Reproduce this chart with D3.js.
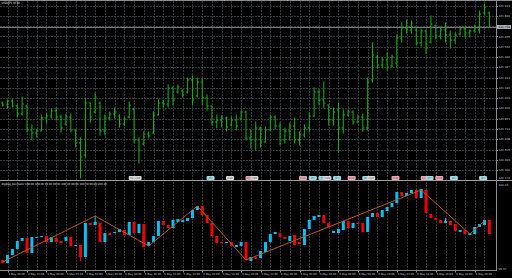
<!DOCTYPE html>
<html>
<head>
<meta charset="utf-8">
<script src="https://cdnjs.cloudflare.com/ajax/libs/d3/7.8.5/d3.min.js"></script>
<style>
  html, body { margin: 0; padding: 0; background: #000; overflow: hidden; }
  svg { display: block; }
  text { font-family: "DejaVu Sans", sans-serif; }
</style>
</head>
<body>
<svg id="svg"></svg>
<script>
// ---- data ----
const chartTitle = "USDJPY,M30";
const oscTitle = "ZigZag_Oscillator 100.06 100.06 99.92 99.92 100.36 99.66 100.20 99.80 100.10";

const barOpen = [
  120.97,120.95,120.99,120.94,120.86,120.94,120.70,120.67,120.69,120.82,
  120.84,120.89,120.83,120.76,120.83,120.70,120.57,120.45,120.97,120.88,
  120.97,120.69,120.82,120.86,120.84,120.76,120.83,120.91,120.60,120.56,
  120.66,120.67,120.85,120.97,120.96,121.12,121.08,121.09,121.08,121.20,
  121.04,121.18,121.02,120.94,120.78,120.80,120.82,120.75,120.80,120.81,
  120.88,120.62,120.60,120.72,120.58,120.70,120.83,120.74,120.60,120.69,
  120.74,120.60,120.65,120.72,120.84,121.08,121.00,120.95,120.80,120.90,
  120.72,120.85,120.88,120.78,120.83,120.72,121.20,121.43,121.35,121.40,
  121.34,121.37,121.62,121.72,121.70,121.70,121.57,121.69,121.58,121.74,
  121.64,121.70,121.65,121.60,121.66,121.71,121.67,121.69,121.70,121.87,
  121.87];
const barHigh = [
  120.98,121.00,121.01,120.95,121.03,120.95,120.75,120.70,120.85,120.86,
  120.91,120.92,120.85,120.86,120.86,120.70,120.62,121.02,120.97,121.07,
  120.98,120.85,120.88,120.92,120.85,120.83,120.98,120.92,120.62,120.68,
  120.68,120.88,121.00,121.00,121.15,121.13,121.15,121.10,121.22,121.24,
  121.22,121.21,121.05,120.94,120.85,120.84,120.83,120.83,120.85,120.89,
  120.89,120.70,120.78,120.73,120.73,120.85,120.84,120.77,120.72,120.77,
  120.82,120.68,120.75,120.87,121.12,121.10,121.18,120.95,120.92,120.97,
  120.90,120.90,120.89,120.85,120.86,121.22,121.57,121.45,121.42,121.47,
  121.45,121.65,121.77,121.80,121.79,121.72,121.71,121.70,121.84,121.75,
  121.73,121.77,121.69,121.67,121.73,121.73,121.70,121.75,121.89,121.96,
  121.88];
const barLow = [
  120.94,120.92,120.93,120.83,120.85,120.68,120.60,120.63,120.69,120.77,
  120.82,120.80,120.68,120.75,120.68,120.53,120.22,120.43,120.78,120.87,
  120.65,120.65,120.80,120.82,120.73,120.75,120.82,120.57,120.37,120.55,
  120.62,120.67,120.85,120.93,120.93,120.95,121.07,121.03,121.07,120.95,
  121.03,120.95,120.90,120.75,120.72,120.73,120.69,120.74,120.70,120.80,
  120.60,120.52,120.50,120.53,120.58,120.70,120.71,120.55,120.57,120.60,
  120.57,120.55,120.63,120.68,120.84,120.95,120.92,120.75,120.75,120.48,
  120.67,120.84,120.76,120.77,120.69,120.70,121.18,121.32,121.32,121.30,
  121.33,121.33,121.58,121.67,121.67,121.55,121.54,121.47,121.57,121.61,
  121.61,121.58,121.52,121.57,121.65,121.63,121.63,121.68,121.67,121.85,
  121.73];
const barClose = [
  120.95,120.99,120.94,120.86,120.96,120.70,120.67,120.69,120.82,120.84,
  120.89,120.83,120.72,120.83,120.70,120.57,120.43,120.97,120.83,121.03,
  120.69,120.82,120.86,120.88,120.76,120.81,120.95,120.60,120.50,120.66,
  120.64,120.85,120.97,120.96,121.12,121.00,121.13,121.05,121.20,121.00,
  121.18,121.02,120.94,120.78,120.80,120.82,120.73,120.80,120.74,120.88,
  120.62,120.60,120.72,120.58,120.70,120.83,120.74,120.60,120.69,120.74,
  120.60,120.65,120.72,120.84,121.08,121.00,120.97,120.80,120.88,120.72,
  120.85,120.88,120.78,120.83,120.72,121.18,121.45,121.35,121.40,121.33,
  121.43,121.62,121.72,121.70,121.77,121.57,121.69,121.52,121.76,121.64,
  121.70,121.65,121.60,121.65,121.71,121.67,121.69,121.73,121.86,121.93,
  121.73];
const bidPrice = 121.73;
const bidLabel = "121.730";

const priceTicks = [121.943,121.840,121.738,121.635,121.532,121.430,121.327,121.224,
  121.121,121.019,120.916,120.813,120.711,120.608,120.505,120.403,120.300];
const priceBottomLabel = 120.174;

// ZigZag oscillator (lower window)
const oscOpen = [
  99.66,99.63,99.71,99.77,99.85,99.88,99.73,99.88,99.89,99.90,
  99.84,99.88,99.85,99.85,99.89,99.80,99.81,99.69,100.03,100.01,
  100.03,99.84,99.93,99.93,99.94,99.96,99.91,100.04,99.93,100.02,
  99.80,99.84,99.90,100.05,100.01,99.98,100.04,100.04,100.05,100.08,
  100.16,100.20,100.11,100.03,99.90,99.84,99.83,99.84,99.79,99.80,
  99.84,99.65,99.69,99.68,99.74,99.84,99.92,99.93,99.89,99.85,
  99.91,99.84,99.81,99.97,100.06,100.09,100.11,100.03,99.93,99.93,
  99.96,100.05,99.98,100.03,100.03,99.94,100.09,100.13,100.09,100.15,
  100.19,100.23,100.34,100.30,100.33,100.36,100.28,100.36,100.12,100.08,
  100.06,100.03,100.05,100.02,99.94,99.96,99.91,99.92,99.99,100.01,
  100.06];
const oscClose = [
  99.63,99.71,99.77,99.85,99.88,99.73,99.89,99.89,99.90,99.84,
  99.89,99.84,99.83,99.89,99.80,99.81,99.69,100.03,100.01,100.04,
  99.84,99.93,99.91,99.94,99.97,99.91,100.04,99.93,100.02,99.79,
  99.84,99.90,100.05,100.01,99.98,100.06,100.07,100.06,100.08,100.16,
  100.20,100.11,100.03,99.90,99.83,99.83,99.84,99.80,99.81,99.84,
  99.66,99.69,99.67,99.75,99.84,99.92,99.94,99.89,99.87,99.90,
  99.81,99.82,99.97,100.06,100.10,100.11,100.03,99.99,99.95,99.97,
  100.05,99.98,100.03,100.02,99.94,100.09,100.13,100.09,100.16,100.19,
  100.23,100.34,100.30,100.33,100.36,100.28,100.37,100.13,100.08,100.06,
  100.03,100.05,100.01,99.95,99.96,99.92,99.93,99.99,100.02,100.06,
  99.92];
// wicks that stick out of the bodies
const oscWickBars = [16, 19, 91];
const oscWickValues = [99.65, 100.10, 100.08];

const zigzagBars = [0, 19, 30, 40, 50, 86, 96, 99];
const zigzagValues = [99.64, 100.10, 99.80, 100.20, 99.66, 100.36, 99.92, 100.05];

const oscTicks = [100.43, 99.57];

// event flags on the main window
const flagBars = [26, 27, 42, 46, 50, 51, 61, 63, 65, 66, 68, 71, 74, 75, 80, 86, 87, 89, 92, 98];
const flagKinds = ["w","w","c","w","p","w","p","c","c","w","c","p","c","w","p","p","c","p","c","c"];
const flagText = ["USD","USD","JPY","USD","EUR","USD","EUR","JPY","JPY","USD","JPY","EUR","JPY","USD","EUR","EUR","JPY","EUR","JPY","JPY"];

const timeLabels = ["4 May 20:00","4 May 22:00","5 May 00:00","5 May 02:00","5 May 04:00",
  "5 May 06:00","5 May 08:00","5 May 10:00","5 May 12:00","5 May 14:00","5 May 16:00",
  "5 May 18:00","5 May 20:00","5 May 22:00","6 May 00:00","6 May 02:00","6 May 04:00",
  "6 May 06:00","6 May 08:00","6 May 10:00","6 May 12:00","6 May 14:00","6 May 16:00",
  "6 May 18:00","6 May 20:00"];

// ---- layout ----
const width = 512, height = 278;
const plotRight = 496;
const mainTop = 1, mainBottom = 180;
const oscTop = 182, oscBottom = 270;

const gridColor = "#34383c";
const axisColor = "#8c8c8c";
const textColor = "#c8c8c8";
const barColor = "#14b414";
const upColor = "#00c0f4";
const downColor = "#f00000";
const zigColor = "#b85a1e";
const flagColors = {w: "#dcdcdc", c: "#9edbe4", p: "#eba7b6"};

const svg = d3.select("#svg")
  .attr("width", width)
  .attr("height", height);

svg.append("rect").attr("width", width).attr("height", height).attr("fill", "#000");

const x = d3.scaleLinear()
  .domain([0, barOpen.length - 1])
  .range([2.7, 489.3]);

const yPrice = d3.scaleLinear()
  .domain([120, 122])
  .range([200, 0]);

const yOsc = d3.scaleLinear()
  .domain([99.56, 100.43])
  .range([oscBottom, oscTop + 1]);

const crisp = v => Math.round(v) + 0.5;

// clip paths for the two windows
const defs = svg.append("defs");
defs.append("clipPath").attr("id", "clipMain")
  .append("rect").attr("x", 0).attr("y", mainTop).attr("width", plotRight).attr("height", mainBottom - mainTop);
defs.append("clipPath").attr("id", "clipOsc")
  .append("rect").attr("x", 0).attr("y", oscTop).attr("width", plotRight).attr("height", oscBottom - oscTop);

const main = svg.append("g").attr("clip-path", "url(#clipMain)");
const osc = svg.append("g").attr("clip-path", "url(#clipOsc)");

// vertical grid every two bars, both windows
const gridBars = d3.range(1, barOpen.length, 2);
[[main, mainTop, mainBottom], [osc, oscTop, oscBottom]].forEach(function (w) {
  w[0].append("g").selectAll("line")
    .data(gridBars)
    .enter()
    .append("line")
    .attr("x1", function (d) { return crisp(x(d)); })
    .attr("x2", function (d) { return crisp(x(d)); })
    .attr("y1", w[1])
    .attr("y2", w[2])
    .attr("stroke", gridColor)
    .attr("stroke-width", 1)
    .attr("stroke-dasharray", "2,1");
});

// horizontal grid in main window
main.append("g").selectAll("line")
  .data(priceTicks)
  .enter()
  .append("line")
  .attr("x1", 0)
  .attr("x2", plotRight)
  .attr("y1", function (d) { return crisp(yPrice(d)); })
  .attr("y2", function (d) { return crisp(yPrice(d)); })
  .attr("stroke", gridColor)
  .attr("stroke-width", 1)
  .attr("stroke-dasharray", "2,1");

// bid line
main.append("line")
  .attr("x1", 0).attr("x2", plotRight)
  .attr("y1", crisp(yPrice(bidPrice))).attr("y2", crisp(yPrice(bidPrice)))
  .attr("stroke", "#7a7a7a")
  .attr("stroke-width", 1);

// OHLC bars
const bars = main.append("g")
  .attr("stroke", barColor)
  .attr("stroke-width", 1);
barOpen.forEach(function (o, i) {
  const cx = x(i);
  bars.append("line")
    .attr("x1", cx).attr("x2", cx)
    .attr("y1", yPrice(barHigh[i]) - 0.5).attr("y2", yPrice(barLow[i]) + 0.5);
  bars.append("line")
    .attr("x1", cx - 1.6).attr("x2", cx)
    .attr("y1", yPrice(o)).attr("y2", yPrice(o));
  bars.append("line")
    .attr("x1", cx).attr("x2", cx + 1.6)
    .attr("y1", yPrice(barClose[i])).attr("y2", yPrice(barClose[i]));
});

// event flags
const flags = main.append("g");
flagBars.forEach(function (b, k) {
  const fx = x(b) - 0.5;
  flags.append("rect")
    .attr("x", fx).attr("y", 176)
    .attr("width", 8).attr("height", 4)
    .attr("rx", 1)
    .attr("fill", flagColors[flagKinds[k]]);
  flags.append("text")
    .attr("x", fx + 4).attr("y", 179.1)
    .attr("text-anchor", "middle")
    .attr("font-size", 2.6)
    .attr("fill", "#555")
    .text(flagText[k]);
});

// ZigZag oscillator candles
const candles = osc.append("g");
oscOpen.forEach(function (o, i) {
  const c = oscClose[i];
  const col = c >= o ? upColor : downColor;
  const top = yOsc(Math.max(o, c)), bot = yOsc(Math.min(o, c));
  candles.append("rect")
    .attr("x", x(i) - 1.5)
    .attr("y", top)
    .attr("width", 3)
    .attr("height", Math.max(1, bot - top))
    .attr("fill", col);
});
oscWickBars.forEach(function (b, k) {
  const o = oscOpen[b], c = oscClose[b];
  const col = c >= o ? upColor : downColor;
  const v = oscWickValues[k];
  const edge = v > Math.max(o, c) ? Math.max(o, c) : Math.min(o, c);
  candles.append("line")
    .attr("x1", x(b)).attr("x2", x(b))
    .attr("y1", yOsc(v)).attr("y2", yOsc(edge))
    .attr("stroke", col)
    .attr("stroke-width", 1);
});

// zigzag line
osc.append("path")
  .datum(zigzagBars.map(function (b, k) { return [b, zigzagValues[k]]; }))
  .attr("d", d3.line()
    .x(function (d) { return x(d[0]); })
    .y(function (d) { return yOsc(d[1]); }))
  .attr("fill", "none")
  .attr("stroke", zigColor)
  .attr("stroke-width", 1);

// ---- frames / axes ----
svg.append("line")
  .attr("x1", 0).attr("x2", width).attr("y1", 0.5).attr("y2", 0.5)
  .attr("stroke", axisColor);
svg.append("line")
  .attr("x1", 0).attr("x2", width).attr("y1", mainBottom + 0.5).attr("y2", mainBottom + 0.5)
  .attr("stroke", "#a0a0a0").attr("stroke-width", 1.2);
svg.append("line")
  .attr("x1", 0).attr("x2", plotRight).attr("y1", oscBottom + 0.5).attr("y2", oscBottom + 0.5)
  .attr("stroke", axisColor);
svg.append("line")
  .attr("x1", plotRight + 0.5).attr("x2", plotRight + 0.5).attr("y1", 0).attr("y2", oscBottom + 1)
  .attr("stroke", axisColor);

// price scale labels (lowest one kept inside the main window)
svg.append("g").selectAll("text")
  .data(priceTicks.concat([priceBottomLabel]))
  .enter()
  .append("text")
  .attr("x", plotRight + 2.5)
  .attr("y", function (d) { return Math.min(yPrice(d) + 1, mainBottom - 1.2); })
  .attr("font-size", 2.8)
  .attr("fill", textColor)
  .text(function (d) { return d.toFixed(3); });

// price tick marks
svg.append("g").selectAll("line")
  .data(priceTicks)
  .enter()
  .append("line")
  .attr("x1", plotRight).attr("x2", plotRight + 2)
  .attr("y1", function (d) { return crisp(yPrice(d)); })
  .attr("y2", function (d) { return crisp(yPrice(d)); })
  .attr("stroke", axisColor);

// bid label
svg.append("rect")
  .attr("x", plotRight + 1).attr("y", yPrice(bidPrice) - 2)
  .attr("width", 14).attr("height", 4)
  .attr("fill", "#a9b0b6");
svg.append("text")
  .attr("x", plotRight + 2.5).attr("y", yPrice(bidPrice) + 1)
  .attr("font-size", 2.8)
  .attr("fill", "#000")
  .text(bidLabel);

// oscillator scale labels
svg.append("g").selectAll("text")
  .data(oscTicks)
  .enter()
  .append("text")
  .attr("x", plotRight + 2.5)
  .attr("y", function (d) { return Math.max(yOsc(d) + 1, oscTop + 3.6); })
  .attr("font-size", 2.8)
  .attr("fill", textColor)
  .text(function (d) { return d.toFixed(2); });

// time axis
const timeAxis = svg.append("g");
timeLabels.forEach(function (t, k) {
  const tx = x(1 + 4 * k);
  timeAxis.append("line")
    .attr("x1", crisp(tx)).attr("x2", crisp(tx))
    .attr("y1", oscBottom).attr("y2", oscBottom + 2.5)
    .attr("stroke", axisColor);
  timeAxis.append("text")
    .attr("x", tx + 1)
    .attr("y", oscBottom + 4.6)
    .attr("font-size", 2.6)
    .attr("fill", textColor)
    .text(t);
});

// window titles
svg.append("text")
  .attr("x", 1.5).attr("y", 4)
  .attr("font-size", 3)
  .attr("fill", "#e0e0e0")
  .text(chartTitle);
svg.append("text")
  .attr("x", 1.5).attr("y", oscTop + 3.2)
  .attr("font-size", 2.6)
  .attr("fill", "#e0e0e0")
  .text(oscTitle);
</script>
</body>
</html>
